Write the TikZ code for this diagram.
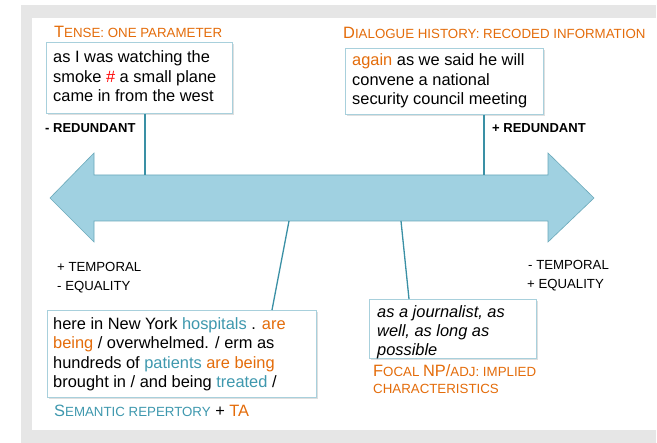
\documentclass[tikz,border=0pt]{standalone}
\usepackage{fontspec}
\setmainfont{Liberation Sans}
\usetikzlibrary{shadows}
\definecolor{bggray}{HTML}{E6E6E6}
\definecolor{orng}{HTML}{E46C0A}
\definecolor{tealt}{HTML}{3E98AE}
\definecolor{arrfill}{HTML}{A0D1E1}
\definecolor{arrline}{HTML}{6AA9BA}
\definecolor{lnk}{HTML}{3A90A5}
\definecolor{boxline}{HTML}{A8D0DC}
\newcommand\bigc[1]{{\fontsize{16.4}{19.6}\selectfont #1}}
\newcommand\smc[1]{{\fontsize{13.3}{16}\selectfont #1}}
\tikzset{
  boxnode/.style={draw=boxline, line width=0.8pt, fill=white, inner sep=0pt,
    anchor=north west, drop shadow={shadow xshift=1.2pt, shadow yshift=-1.2pt, opacity=0.25, fill=gray}},
  bodytext/.style={anchor=base west, inner sep=0pt, align=left,
    font=\fontsize{16.4}{19.6}\selectfont, text=black},
  titletext/.style={anchor=base west, inner sep=0pt, text=orng},
  sidetext/.style={anchor=base west, inner sep=0pt, font=\fontsize{13.2}{15.6}\selectfont},
  link/.style={draw=lnk, line width=1.3pt},
}
\begin{document}
\begin{tikzpicture}[x=1pt,y=-1pt]
\useasboundingbox (0,0) rectangle (657,443);
\fill[white] (0,0) rectangle (657,443);
\fill[bggray] (21,5) rectangle (656,443);
\fill[white] (32,18) rectangle (657,430);

% double arrow
\draw[fill=arrfill, draw=arrline, line width=0.6pt]
  (50,198) -- (94,153) -- (94,175) -- (548,175) -- (548,153) -- (594,198)
  -- (548,242) -- (548,221) -- (94,221) -- (94,242) -- cycle;

% boxes
\node[boxnode, minimum width=186pt, minimum height=71pt] (b1) at (46,42) {};
\node[boxnode, minimum width=198pt, minimum height=66pt] (b2) at (345,48) {};
\node[boxnode, minimum width=269pt, minimum height=87pt] (b3) at (47,310) {};
\node[boxnode, minimum width=167pt, minimum height=59pt] (b4) at (369,299) {};

% connector attach points
\coordinate (c1) at (145,175);
\coordinate (c2) at (484,175);
\coordinate (c3) at (289,221);
\coordinate (k3) at (272,0);
\coordinate (c4) at (401,221);
\coordinate (k4) at (409,0);
\draw[link] (b1.south -| c1) -- (c1);
\draw[link] (b2.south -| c2) -- (c2);
\draw[link] (c3) -- (b3.north -| k3);
\draw[link] (c4) -- (b4.north -| k4);

% titles
\node[titletext] (tt1) at (54,38) {\bigc{T}\smc{ENSE: ONE PARAMETER}};
\node[titletext] (tt2) at (343,39) {\bigc{D}\smc{IALOGUE HISTORY: RECODED INFORMATION}};
\node[titletext, text=tealt] (tt3) at (54,417) {\bigc{S}\smc{EMANTIC REPERTORY}\bigc{\ \textcolor{black}{+}\ \textcolor{orng}{TA}}};
\node[titletext] (tt4a) at (373,377) {\bigc{F}\smc{OCAL }\bigc{NP/}\smc{ADJ: IMPLIED}};
\node[titletext] (tt4b) at (373,394) {\smc{CHARACTERISTICS}};

% box texts (anchor = baseline of last line)
\node[bodytext] (x1) at (53,102) {as I was watching the\\smoke \textcolor{red}{\#} a small plane\\came in from the west};
\node[bodytext] (x2) at (352,105) {\textcolor{orng}{again} as we said he will\\convene a national\\security council meeting};
\node[bodytext] (x3) at (53,388) {here in New York \textcolor{tealt}{hospitals} . \textcolor{orng}{are}\\\textcolor{orng}{being} / overwhelmed. / erm as\\hundreds of \textcolor{tealt}{patients} \textcolor{orng}{are being}\\brought in / and being \textcolor{tealt}{treated} /};
\node[bodytext, font=\fontsize{16.4}{19}\selectfont\itshape] (x4) at (377,356) {as a journalist, as\\well, as long as\\possible};

% side labels
\node[sidetext, font=\fontsize{13}{15.6}\selectfont\bfseries] (r1) at (45,133) {- REDUNDANT};
\node[sidetext, font=\fontsize{13}{15.6}\selectfont\bfseries] (r2) at (492,133) {+ REDUNDANT};
\node[sidetext] (l1) at (57,272) {+ TEMPORAL};
\node[sidetext] (l2) at (57,291) {- EQUALITY};
\node[sidetext] (l3) at (528,270) {- TEMPORAL};
\node[sidetext] (l4) at (527,289) {+ EQUALITY};
\end{tikzpicture}
\end{document}
